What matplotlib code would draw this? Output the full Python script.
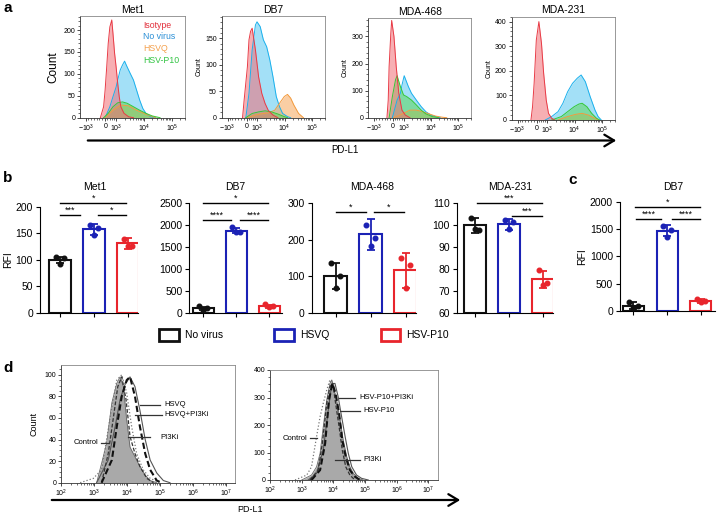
import numpy as np
import matplotlib
matplotlib.use('Agg')
import matplotlib.pyplot as plt
from matplotlib.patches import Patch, FancyArrowPatch

plt.rcParams['font.family'] = ['Liberation Sans', 'DejaVu Sans']
plt.rcParams['mathtext.fontset'] = 'custom'
plt.rcParams['mathtext.rm'] = 'Liberation Sans'
plt.rcParams['mathtext.it'] = 'Liberation Sans:italic'
plt.rcParams['mathtext.bf'] = 'Liberation Sans:bold'

W, H = 719, 515

# ---------------- panel a : flow histograms (x in display channel 0-100) ----------------
a_titles = ['Met1', 'DB7', 'MDA-468', 'MDA-231']
a_ylims = [232, 192, 368, 420]
a_yticks = [[0, 50, 100, 150, 200], [0, 50, 100, 150], [0, 100, 200, 300], [0, 100, 200, 300, 400]]
a_xtick_labels = [r'$-10^3$', '0', r'$10^3$', r'$10^4$', r'$10^5$']
a_series = ['Isotype', 'No virus', 'HSVQ', 'HSV-P10']

met1_iso_x = [20.2, 23.4, 24.9, 26.5, 28.0, 29.6, 31.5, 32.7, 34.3, 35.8, 37.4, 38.9, 40.5, 43.6, 48.3, 53.0]
met1_iso_y = [0, 25, 63, 116, 170, 207, 223, 192, 147, 116, 78, 48, 25, 10, 2, 0]
met1_nv_x = [24.9, 29.6, 32.7, 35.8, 37.4, 39.9, 42.1, 44.2, 46.7, 49.8, 53.0, 56.1, 59.2, 62.3, 65.4, 70.1, 74.8]
met1_nv_y = [0, 25, 48, 70, 86, 109, 120, 129, 116, 101, 86, 63, 40, 21, 10, 2, 0]
met1_q_x = [24.9, 32.7, 40.5, 48.3, 56.1, 65.4, 74.8]
met1_q_y = [0, 17, 29, 27, 17, 8, 0]
met1_p10_x = [23.4, 28.0, 32.7, 37.4, 42.1, 46.7, 53.0, 59.2, 65.4, 71.7, 79.4]
met1_p10_y = [0, 10, 25, 34, 36, 33, 25, 17, 10, 4, 0]

db7_iso_x = [21.0, 22.6, 25.9, 27.5, 29.1, 30.7, 34.0, 37.2, 40.4, 43.7, 46.9, 51.7, 56.6]
db7_iso_y = [0, 33, 96, 147, 163, 169, 128, 77, 46, 27, 14, 5, 0]
db7_nv_x = [24.3, 27.5, 30.7, 34.0, 35.6, 38.8, 42.0, 45.3, 48.5, 51.7, 55.0, 58.2, 61.4, 66.3, 69.5]
db7_nv_y = [0, 46, 128, 175, 181, 172, 147, 134, 109, 77, 40, 21, 8, 2, 0]
db7_q_x = [25.9, 34.0, 42.0, 46.9, 53.4, 58.2, 63.1, 66.3, 69.5, 72.7, 77.5, 82.4]
db7_q_y = [0, 5, 8, 9, 14, 27, 40, 44, 37, 24, 8, 0]
db7_p10_x = [24.3, 30.7, 37.2, 43.7, 50.1, 56.6, 63.1, 66.3]
db7_p10_y = [0, 8, 11, 13, 11, 7, 2, 0]

mda468_iso_x = [18.9, 20.2, 21.1, 22.8, 23.7, 26.0, 28.3, 30.9, 34.1, 37.4, 42.2]
mda468_iso_y = [0, 65, 189, 310, 359, 300, 189, 90, 28, 10, 0]
mda468_nv_x = [24.4, 29.2, 32.5, 34.1, 36.4, 40.6, 43.8, 48.7, 53.6, 58.4, 63.3, 68.2, 73.0]
mda468_nv_y = [0, 65, 90, 120, 155, 115, 90, 65, 41, 22, 10, 4, 0]
mda468_q_x = [26.0, 35.7, 42.2, 48.7, 55.2, 61.7, 68.2, 74.6, 79.5]
mda468_q_y = [0, 16, 28, 28, 22, 14, 6, 2, 0]
mda468_p10_x = [21.1, 24.4, 27.6, 29.2, 32.5, 35.7, 38.9, 43.8, 48.7, 53.6, 58.4, 64.9, 71.4]
mda468_p10_y = [0, 78, 140, 155, 115, 84, 78, 65, 47, 28, 14, 4, 0]

mda231_iso_x = [19.4, 21.0, 22.6, 24.8, 27.4, 30.0, 32.2, 34.8, 37.1, 40.3, 43.5]
mda231_iso_y = [0, 54, 149, 325, 400, 312, 190, 81, 27, 7, 0]
mda231_nv_x = [33.8, 40.3, 46.7, 51.6, 56.4, 61.3, 66.1, 70.0, 74.2, 79.1, 83.9, 87.1, 90.3]
mda231_nv_y = [0, 14, 34, 68, 115, 149, 170, 183, 156, 95, 41, 14, 0]
mda231_q_x = [46.7, 56.4, 64.5, 71.0, 77.4, 83.9, 87.1]
mda231_q_y = [0, 14, 23, 27, 20, 7, 0]
mda231_p10_x = [40.3, 50.0, 56.4, 62.9, 67.8, 71.0, 75.8, 80.6, 85.5, 88.7]
mda231_p10_y = [0, 14, 34, 54, 65, 68, 54, 27, 7, 0]

# ---------------- panel b / c : RFI bars ----------------
groups = ['No virus', 'HSVQ', 'HSV-P10']
met1_rfi = [100, 157, 131]
met1_sd = [6, 10, 10]
met1_pts = [[105, 104, 91], [165, 160, 146], [140, 126, 126]]
db7_rfi = [99, 1875, 152]
db7_sd = [40, 50, 35]
db7_pts = [[160, 99, 70], [1951, 1852, 1852], [198, 152, 137]]
mda468_rfi = [100, 215, 117]
mda468_sd = [35, 43, 48]
mda468_pts = [[135, 100, 67], [241, 206, 183], [150, 131, 67]]
mda231_rfi = [100, 100.5, 75.3]
mda231_sd = [3.5, 2.5, 3.8]
mda231_pts = [[103.1, 97.8, 98.1], [102.4, 101.6, 98.1], [79.7, 73.6, 72.5]]
c_db7_rfi = [98, 1470, 183]
c_db7_sd = [60, 100, 35]
c_db7_pts = [[171, 98, 49], [1555, 1482, 1360], [226, 183, 159]]

# significance: (from, to, y, stars)
met1_sig = [(0, 0.6, 184, '***'), (1.1, 1.95, 184, '*'), (0, 1.95, 207, '*')]
db7_sig = [(0, 0.85, 2118, '****'), (1.12, 1.95, 2118, '****'), (0, 1.95, 2517, '*')]
mda468_sig = [(0, 0.88, 277, '*'), (1.1, 1.95, 277, '*')]
mda231_sig = [(0.05, 1.97, 110.3, '***'), (1.1, 1.98, 104.2, '***')]
c_db7_sig = [(0.05, 1.98, 1908, '*'), (0.08, 0.83, 1683, '****'), (1.13, 1.98, 1683, '****')]

# ---------------- panel d : PI3Ki overlays (x = log10 PD-L1) ----------------
dl_ctrl_x = [2.58, 2.98, 3.23, 3.38, 3.54, 3.69, 3.84, 3.99, 4.14, 4.29, 4.49, 4.70, 5.0]
dl_ctrl_y = [0, 4, 12, 40, 70, 95, 100, 83, 52, 27, 12, 4, 0]
dl_fill_x = [3.08, 3.38, 3.54, 3.69, 3.79, 3.89, 3.99, 4.09, 4.24, 4.39, 4.55, 4.70, 4.90]
dl_fill_y = [0, 36, 74, 92, 98, 89, 58, 33, 24, 15, 7, 2, 0]
dl_hsvq_x = [3.08, 3.43, 3.64, 3.79, 3.94, 4.09, 4.24, 4.39, 4.55, 4.70, 4.90, 5.10, 5.30]
dl_hsvq_y = [0, 21, 52, 77, 91, 98, 89, 67, 40, 21, 9, 2, 0]
dl_combo_x = [3.23, 3.54, 3.69, 3.84, 3.99, 4.09, 4.24, 4.39, 4.55, 4.70, 4.90, 5.05]
dl_combo_y = [0, 21, 52, 80, 95, 98, 80, 52, 27, 12, 2, 0]
dl_pi3k_x = [3.23, 3.43, 3.59, 3.72, 3.84, 3.97, 4.09, 4.24, 4.39, 4.60, 4.80]
dl_pi3k_y = [0, 27, 61, 89, 98, 77, 43, 27, 15, 4, 0]

dr_ctrl_x = [2.79, 3.16, 3.31, 3.47, 3.58, 3.68, 3.79, 3.89, 4.00, 4.10, 4.21, 4.31, 4.42, 4.52, 4.63, 4.79, 4.94]
dr_ctrl_y = [0, 18, 48, 158, 230, 279, 327, 364, 339, 279, 206, 133, 73, 36, 15, 2, 0]
dr_fill_x = [3.00, 3.31, 3.47, 3.58, 3.68, 3.79, 3.89, 3.95, 4.00, 4.10, 4.21, 4.31, 4.42, 4.52, 4.63, 4.79, 4.94]
dr_fill_y = [0, 18, 48, 97, 194, 291, 351, 364, 339, 291, 218, 145, 85, 48, 24, 6, 0]
dr_p10_x = [3.21, 3.47, 3.68, 3.84, 3.95, 4.05, 4.15, 4.26, 4.37, 4.47, 4.58, 4.73, 4.89, 5.10]
dr_p10_y = [0, 24, 109, 255, 351, 351, 303, 230, 158, 97, 48, 18, 6, 0]
dr_combo_x = [3.31, 3.58, 3.74, 3.86, 3.97, 4.07, 4.18, 4.28, 4.39, 4.52, 4.68, 4.84]
dr_combo_y = [0, 36, 133, 291, 351, 315, 242, 145, 85, 36, 12, 0]
dr_pi3k_x = [3.26, 3.52, 3.65, 3.79, 3.89, 3.98, 4.07, 4.18, 4.28, 4.39, 4.52, 4.68]
dr_pi3k_y = [0, 36, 133, 279, 339, 351, 279, 194, 109, 48, 18, 0]

# ======================================================================
fig = plt.figure(figsize=(W / 100, H / 100), dpi=100)


def px_axes(l, t, r, b):
    return fig.add_axes([l / W, 1 - b / H, (r - l) / W, (b - t) / H])


hist_cols = {'Isotype': ('#f26d76', '#e83a45'),
             'No virus': ('#58c8f2', '#1ab0ec'),
             'HSVQ': ('#f6a65a', '#f39a3c'),
             'HSV-P10': ('#5dd65d', '#36c836')}
label_cols = ['#e2303c', '#2a8fd6', '#f4a04c', '#33c444']

a_boxes = [(80, 16, 185, 117.7), (221.7, 16, 325, 117.7), (368.3, 18, 471, 117.7), (511.7, 16.7, 615, 120)]
a_data = [
    [(met1_nv_x, met1_nv_y), (met1_q_x, met1_q_y), (met1_p10_x, met1_p10_y), (met1_iso_x, met1_iso_y)],
    [(db7_nv_x, db7_nv_y), (db7_q_x, db7_q_y), (db7_p10_x, db7_p10_y), (db7_iso_x, db7_iso_y)],
    [(mda468_nv_x, mda468_nv_y), (mda468_q_x, mda468_q_y), (mda468_p10_x, mda468_p10_y), (mda468_iso_x, mda468_iso_y)],
    [(mda231_nv_x, mda231_nv_y), (mda231_q_x, mda231_q_y), (mda231_p10_x, mda231_p10_y), (mda231_iso_x, mda231_iso_y)],
]
draw_order = ['No virus', 'HSVQ', 'HSV-P10', 'Isotype']

xt_pos = [6, 25, 36, 63.5, 91]
minor_pos = [25 + v / 1000 * 19 for v in range(-900, 0, 150)] + [25 + v / 1000 * 11 for v in range(200, 1000, 200)]
minor_pos += [36 + (np.log10(k) + d) * 27.5 for d in (0, 1) for k in range(2, 10)]
minor_pos += [91 + np.log10(k) * 27.5 for k in (2, 3)]

for i, box in enumerate(a_boxes):
    ax = px_axes(*box)
    for name, (xs, ys) in zip(draw_order, a_data[i]):
        fc, ec = hist_cols[name]
        ax.fill_between(xs, ys, color=fc, alpha=0.55, lw=0)
        ax.plot(xs, ys, color=ec, lw=0.7)
    ax.set_xlim(0, 100)
    ax.set_ylim(0, a_ylims[i])
    ax.set_yticks(a_yticks[i])
    ax.set_xticks(xt_pos)
    ax.set_xticklabels(a_xtick_labels)
    ax.set_xticks(minor_pos, minor=True)
    ax.yaxis.set_minor_locator(matplotlib.ticker.AutoMinorLocator(5))
    ax.tick_params(labelsize=5, length=2, width=0.5, pad=1.5)
    ax.tick_params(which='minor', length=1.2, width=0.4)
    for s in ax.spines:
        ax.spines[s].set_linewidth(0.6)
        ax.spines[s].set_color('#888888')
    ax.spines['left'].set_color('#333333')
    ax.spines['bottom'].set_color('#333333')
    ax.set_title(a_titles[i], fontsize=7.5, pad=2.5)
    if i == 0:
        ax.set_ylabel('Count', fontsize=8.5, labelpad=3)
        for k, name in enumerate(a_series):
            ax.text(0.6, 0.91 - k * 0.115, name, color=label_cols[k], fontsize=6.3,
                    transform=ax.transAxes, va='center')
    else:
        ax.set_ylabel('Count', fontsize=5, labelpad=2)

# arrow a
fig.add_artist(FancyArrowPatch((85 / W, 1 - 140.5 / H), (619 / W, 1 - 140.5 / H),
                               transform=fig.transFigure, arrowstyle='->,head_length=0.5,head_width=0.3',
                               mutation_scale=14, lw=1.6, color='black'))
fig.text(345 / W, 1 - 150 / H, 'PD-L1', fontsize=7, ha='center', va='center')

# ---------------- bars ----------------
bar_edge = ['#111111', '#1b22b5', '#e8252c']
b_specs = [
    ((40, 206.7, 138, 312.7), (-0.59, 2.29), (0, 200), [0, 50, 100, 150, 200], met1_rfi, met1_sd, met1_pts, met1_sig, 'Met1', 95),
    ((189.3, 203.3, 282, 312.7), (-0.42, 2.38), (0, 2500), [0, 500, 1000, 1500, 2000, 2500], db7_rfi, db7_sd, db7_pts, db7_sig, 'DB7', 235),
    ((311.7, 203.3, 416, 312.7), (-0.68, 2.3), (0, 300), [0, 100, 200, 300], mda468_rfi, mda468_sd, mda468_pts, mda468_sig, 'MDA-468', 372),
    ((456.7, 203.3, 553, 312.7), (-0.54, 2.3), (60, 110), [60, 70, 80, 90, 100, 110], mda231_rfi, mda231_sd, mda231_pts, mda231_sig, 'MDA-231', 510),
    ((620, 201.7, 715, 311), (-0.4, 2.42), (0, 2000), [0, 500, 1000, 1500, 2000], c_db7_rfi, c_db7_sd, c_db7_pts, c_db7_sig, 'DB7', 673),
]
jit = [-0.12, 0.12, 0.0]
for j, (box, xl, yl, yt, rfi, sd, pts, sig, title, tx) in enumerate(b_specs):
    ax = px_axes(*box)
    xs = np.arange(len(groups))
    ax.bar(xs, np.array(rfi) - yl[0], bottom=yl[0], width=0.63, facecolor='white',
           edgecolor=bar_edge, linewidth=1.5, zorder=2)
    for k in range(len(groups)):
        ax.errorbar(xs[k], rfi[k], yerr=sd[k], color=bar_edge[k], capsize=3.2,
                    elinewidth=1.3, capthick=1.3, zorder=3)
        ax.plot(xs[k] + np.array(jit), pts[k], 'o', color=bar_edge[k], ms=3.3, zorder=4)
    ax.set_xlim(*xl)
    ax.set_ylim(*yl)
    ax.set_yticks(yt)
    ax.set_xticks(xs)
    ax.set_xticklabels([])
    ax.tick_params(labelsize=7.5, length=3, width=0.8, pad=2)
    for s in ('top', 'right'):
        ax.spines[s].set_visible(False)
    for s in ('left', 'bottom'):
        ax.spines[s].set_linewidth(0.8)
    for (x1, x2, y, st) in sig:
        ax.plot([x1, x2], [y, y], color='black', lw=1.0, clip_on=False)
        ax.text((x1 + x2) / 2, y, st, ha='center', va='bottom', fontsize=6.5, clip_on=False)
    fig.text(tx / W, 1 - 187 / H, title, ha='center', va='center', fontsize=7.5)
    if j in (0, 4):
        ax.set_ylabel('RFI', fontsize=7.5, labelpad=2)

handles = [Patch(facecolor='white', edgecolor=c, linewidth=2) for c in bar_edge]
fig.legend(handles, groups, loc='center', bbox_to_anchor=(304 / W, 1 - 335 / H), ncol=3,
           frameon=False, fontsize=7.5, handlelength=1.9, handleheight=1.35,
           columnspacing=4.9, handletextpad=0.6)

# ---------------- panel d ----------------
d_boxes = [(61, 365, 235, 482.7), (270, 370, 438.3, 480)]
d_ylims = [109, 400]
d_yticks = [[0, 20, 40, 60, 80, 100], [0, 100, 200, 300, 400]]
d_curves = [
    (dl_fill_x, dl_fill_y, dl_ctrl_x, dl_ctrl_y, dl_hsvq_x, dl_hsvq_y, dl_combo_x, dl_combo_y, dl_pi3k_x, dl_pi3k_y),
    (dr_fill_x, dr_fill_y, dr_ctrl_x, dr_ctrl_y, dr_p10_x, dr_p10_y, dr_combo_x, dr_combo_y, dr_pi3k_x, dr_pi3k_y),
]
d_xmax = [7.27, 7.31]
# annotation: (label, line x1, line x2, y, text x, ha)
d_notes = [
    [('HSVQ', 4.39, 5.0, 72, 5.12, 'left'), ('HSVQ+PI3Ki', 4.24, 5.05, 63, 5.12, 'left'),
     ('PI3Ki', 4.04, 4.70, 42, 5.0, 'left'), ('Control', 3.21, 3.43, 37, 3.12, 'right')],
    [('HSV-P10+PI3Ki', 4.18, 4.68, 300, 4.82, 'left'), ('HSV-P10', 4.21, 4.84, 252, 4.95, 'left'),
     ('PI3Ki', 4.05, 4.84, 73, 4.95, 'left'), ('Control', 3.26, 3.47, 151, 3.18, 'right')],
]
for i, box in enumerate(d_boxes):
    ax = px_axes(*box)
    fx, fy, cx, cy, vx, vy, bx, by, px_, py_ = d_curves[i]
    ax.fill_between(fx, fy, color='#a9a9a9', lw=0)
    ax.plot(fx, fy, color='#666666', lw=0.6)
    ax.plot(cx, cy, color='#777777', lw=0.9, ls=':')
    ax.plot(vx, vy, color='#555555', lw=0.8)
    ax.plot(px_, py_, color='#333333', lw=0.9, ls=(0, (3, 1.5)))
    ax.plot(bx, by, color='#111111', lw=1.5, ls=(0, (3, 1.5)))
    for (lab, x1, x2, y, xt, ha) in d_notes[i]:
        ax.plot([x1, x2], [y, y], color='#333333', lw=0.9)
        ax.text(xt, y, lab, fontsize=5.5, ha=ha, va='center')
    ax.set_xlim(2, d_xmax[i])
    ax.set_ylim(0, d_ylims[i])
    ax.set_yticks(d_yticks[i])
    ax.set_xticks([2, 3, 4, 5, 6, 7])
    ax.set_xticklabels([r'$10^{%d}$' % k for k in range(2, 8)])
    ax.set_xticks([d + np.log10(k) for d in range(2, 7) for k in range(2, 10)], minor=True)
    ax.yaxis.set_minor_locator(matplotlib.ticker.AutoMinorLocator(4))
    ax.tick_params(labelsize=5, length=2, width=0.5, pad=1.5)
    ax.tick_params(which='minor', length=1.2, width=0.4)
    for s in ax.spines:
        ax.spines[s].set_linewidth(0.6)
        ax.spines[s].set_color('#888888')
    ax.spines['left'].set_color('#333333')
    ax.spines['bottom'].set_color('#333333')
    if i == 0:
        ax.set_ylabel('Count', fontsize=6.5, labelpad=4)

fig.add_artist(FancyArrowPatch((49 / W, 1 - 500 / H), (463 / W, 1 - 500 / H),
                               transform=fig.transFigure, arrowstyle='->,head_length=0.5,head_width=0.3',
                               mutation_scale=14, lw=1.6, color='black'))
fig.text(250 / W, 1 - 509 / H, 'PD-L1', fontsize=6.5, ha='center', va='center')

for lab, x, y in [('a', 3, 8), ('b', 3, 178), ('c', 568, 180), ('d', 3, 368)]:
    fig.text(x / W, 1 - y / H, lab, fontsize=11, fontweight='bold', ha='left', va='center')

fig.savefig('out.png', dpi=100)
